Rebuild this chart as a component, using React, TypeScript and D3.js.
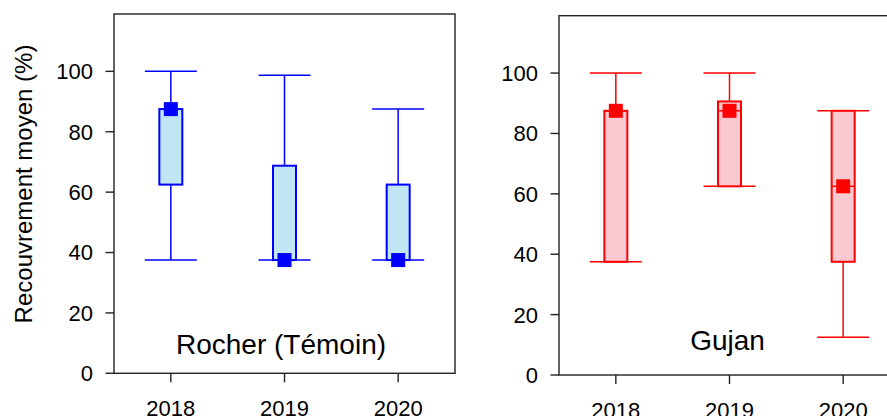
import * as d3 from "d3";
import { useEffect, useRef } from "react";

// ** Data **
const years = ["2018", "2019", "2020"];
const yTicks = [0, 20, 40, 60, 80, 100];

const rocherLow = [37.5, 37.5, 37.5];
const rocherQ1 = [62.5, 37.5, 37.5];
const rocherMedian = [87.5, 37.5, 37.5];
const rocherQ3 = [87.5, 68.75, 62.5];
const rocherHigh = [100, 98.75, 87.5];

const gujanLow = [37.5, 62.5, 12.5];
const gujanQ1 = [37.5, 62.5, 37.5];
const gujanMedian = [87.5, 87.5, 62.5];
const gujanQ3 = [87.5, 90.6, 87.5];
const gujanHigh = [100, 100, 87.5];

const FONT = "'Liberation Sans', Arial, Helvetica, sans-serif";

interface PanelSpec {
    label: string;
    left: number;
    right: number;
    top: number;
    bottom: number;
    labelY: number;
    labelDx: number;
    stroke: string;
    fill: string;
    low: number[];
    q1: number[];
    median: number[];
    q3: number[];
    high: number[];
}

const panels: PanelSpec[] = [
    {
        label: "Rocher (Témoin)", left: 114, right: 455, top: 14, bottom: 373.3, labelY: 354, labelDx: -3.5,
        stroke: "#0000ff", fill: "#c0e5f3",
        low: rocherLow, q1: rocherQ1, median: rocherMedian, q3: rocherQ3, high: rocherHigh,
    },
    {
        label: "Gujan", left: 559, right: 900, top: 15.7, bottom: 375, labelY: 350, labelDx: -2,
        stroke: "#ff0000", fill: "#fac8d1",
        low: gujanLow, q1: gujanQ1, median: gujanMedian, q3: gujanQ3, high: gujanHigh,
    },
];

const App = () => {
    const svgRef = useRef<SVGSVGElement | null>(null);

    useEffect(() => {
        const svg = d3.select(svgRef.current);
        svg.selectAll("*").remove();

        panels.forEach(p => {
            const g = svg.append("g");
            const x = d3.scaleBand().domain(years).range([p.left, p.right]).padding(0);
            const y = d3.scaleLinear().domain([0, 119]).range([p.bottom, p.top]);
            const cx = (d: string) => (x(d) as number) + x.bandwidth() / 2;
            const boxW = 23, capW = 52, mark = 14;

            // ** Frame **
            g.append("rect")
                .attr("x", p.left).attr("y", p.top)
                .attr("width", p.right - p.left).attr("height", p.bottom - p.top)
                .attr("fill", "none").attr("stroke", "#222").attr("stroke-width", 1.4);

            // ** Y axis ticks + labels **
            yTicks.forEach(t => {
                g.append("line")
                    .attr("x1", p.left - 8.5).attr("x2", p.left)
                    .attr("y1", y(t)).attr("y2", y(t))
                    .attr("stroke", "#222").attr("stroke-width", 1.4);
                g.append("text")
                    .attr("x", p.left - 21).attr("y", y(t)).attr("dy", "0.36em")
                    .attr("text-anchor", "end")
                    .style("font-family", FONT).style("font-size", "22px")
                    .text(t);
            });

            // ** X axis ticks + labels **
            years.forEach(yr => {
                g.append("line")
                    .attr("x1", cx(yr)).attr("x2", cx(yr))
                    .attr("y1", p.bottom).attr("y2", p.bottom + 9)
                    .attr("stroke", "#222").attr("stroke-width", 1.4);
                g.append("text")
                    .attr("x", cx(yr)).attr("y", p.bottom + 43)
                    .attr("text-anchor", "middle")
                    .style("font-family", FONT).style("font-size", "22px")
                    .text(yr);
            });

            // ** Boxes **
            years.forEach((yr, i) => {
                const c = cx(yr);
                // whiskers
                g.append("line")
                    .attr("x1", c).attr("x2", c)
                    .attr("y1", y(p.high[i])).attr("y2", y(p.q3[i]))
                    .attr("stroke", p.stroke).attr("stroke-width", 1.5);
                g.append("line")
                    .attr("x1", c).attr("x2", c)
                    .attr("y1", y(p.q1[i])).attr("y2", y(p.low[i]))
                    .attr("stroke", p.stroke).attr("stroke-width", 1.5);
                [p.high[i], p.low[i]].forEach(v => {
                    g.append("line")
                        .attr("x1", c - capW / 2).attr("x2", c + capW / 2)
                        .attr("y1", y(v)).attr("y2", y(v))
                        .attr("stroke", p.stroke).attr("stroke-width", 1.5);
                });
                // box
                g.append("rect")
                    .attr("x", c - boxW / 2).attr("y", y(p.q3[i]))
                    .attr("width", boxW).attr("height", y(p.q1[i]) - y(p.q3[i]))
                    .attr("fill", p.fill).attr("stroke", p.stroke).attr("stroke-width", 2);
                // median line
                g.append("line")
                    .attr("x1", c - boxW / 2).attr("x2", c + boxW / 2)
                    .attr("y1", y(p.median[i])).attr("y2", y(p.median[i]))
                    .attr("stroke", p.stroke).attr("stroke-width", 1.5);
                // median marker
                g.append("rect")
                    .attr("x", c - mark / 2).attr("y", y(p.median[i]) - mark / 2)
                    .attr("width", mark).attr("height", mark)
                    .attr("fill", p.stroke);
            });

            // ** Panel label **
            g.append("text")
                .attr("x", cx(years[1]) + p.labelDx).attr("y", p.labelY)
                .attr("text-anchor", "middle")
                .style("font-family", FONT).style("font-size", "28px")
                .text(p.label);
        });

        // ** Y axis title **
        svg.append("text")
            .attr("transform", "translate(31.5,184) rotate(-90)")
            .attr("text-anchor", "middle")
            .style("font-family", FONT).style("font-size", "24px")
            .text("Recouvrement moyen (%)");
    }, []);

    return (
        <svg ref={svgRef} width={887} height={416}
            style={{ position: "absolute", left: 0, top: 0, background: "#fff" }} />
    );
};

export default App;
